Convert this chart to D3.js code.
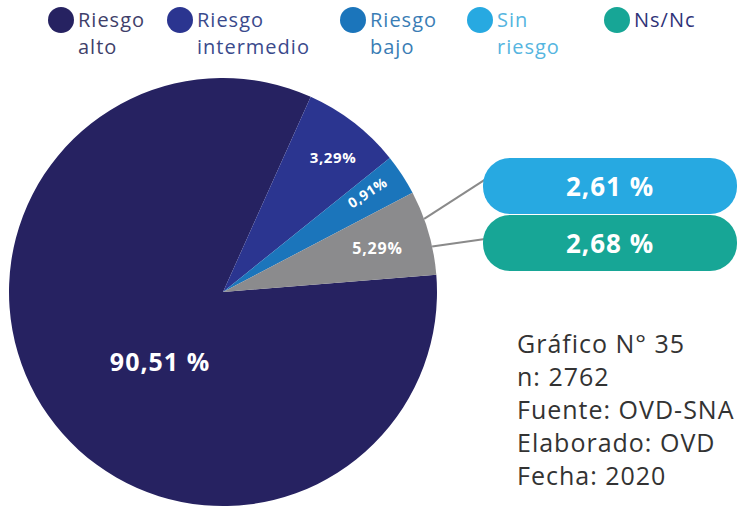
<!DOCTYPE html>
<html>
<head>
<meta charset="utf-8">
<script src="https://cdn.jsdelivr.net/npm/d3@7"></script>
<style>
  body { margin: 0; background: #fff; }
  text { font-family: "Open Sans", Lato, sans-serif; }
</style>
</head>
<body>
<div id="chart"></div>
<script>
// categories and values as printed on the chart
var categories = ["Riesgo alto", "Riesgo intermedio", "Riesgo bajo", "Sin riesgo / Ns/Nc"];
var labels = ["90,51 %", "3,29%", "0,91%", "5,29%"];
var values = [90.51, 3.29, 0.91, 5.29];
// share of the circle each slice takes in the picture (not drawn to scale)
var shares = [83.0, 7.5, 3.1, 6.4];
var sliceColors = ["#262261", "#2b3590", "#1b75bb", "#8b8b8d"];

// legend
var legendNames = [["Riesgo", "alto"], ["Riesgo", "intermedio"], ["Riesgo", "bajo"], ["Sin", "riesgo"], ["Ns/Nc"]];
var legendDots = ["#262261", "#2b3590", "#1b75bb", "#27a9e1", "#17a696"];
var legendText = ["#3f3f6a", "#3a4a8c", "#3a7db5", "#55b5e0", "#2f3378"];

// breakdown of the grey slice
var subLabels = ["2,61 %", "2,68 %"];
var subValues = [2.61, 2.68];
var subColors = ["#27a9e1", "#17a696"];

var notes = ["Gráfico N° 35", "n: 2762", "Fuente: OVD-SNA", "Elaborado: OVD", "Fecha: 2020"];

var svgWidth = 741, svgHeight = 510;
var cx = 223, cy = 292, radius = 214;

var svg = d3.select("#chart").append("svg")
  .attr("width", svgWidth)
  .attr("height", svgHeight);

var deg = Math.PI / 180;
var pie = d3.pie()
  .sort(null)
  .startAngle(85.4 * deg)
  .endAngle(85.4 * deg + 2 * Math.PI);

var slices = pie(shares);
var arc = d3.arc().innerRadius(0).outerRadius(radius);

var pieGroup = svg.append("g")
  .attr("transform", `translate(${cx}, ${cy})`);

pieGroup.selectAll("path")
  .data(slices)
  .enter()
  .append("path")
  .attr("d", arc)
  .attr("fill", (d, i) => sliceColors[i]);

// slice label placement: angle (deg, clockwise from top), radius fraction
var labelPos = [
  { a: 222, r: 0.44, rot: 0, size: 25, ls: 1 },
  { a: 39.4, r: 0.81, rot: 0, size: 15, ls: 0.6 },
  { a: 55.5, r: 0.82, rot: -33, size: 14, ls: 0.6 },
  { a: 74.2, r: 0.75, rot: 0, size: 16, ls: 0.8 }
];

pieGroup.selectAll("text.slice")
  .data(slices)
  .enter()
  .append("text")
  .attr("class", "slice")
  .attr("transform", function(d, i) {
    var a = labelPos[i].a * deg;
    var r = radius * labelPos[i].r;
    var x = Math.sin(a) * r, y = -Math.cos(a) * r;
    return `translate(${x}, ${y}) rotate(${labelPos[i].rot})`;
  })
  .attr("text-anchor", "middle")
  .attr("dy", "0.36em")
  .attr("fill", "#fff")
  .attr("font-weight", "bold")
  .attr("letter-spacing", (d, i) => labelPos[i].ls)
  .attr("font-size", (d, i) => labelPos[i].size + "px")
  .text((d, i) => labels[i]);

// callouts for the grey slice
var grey = slices[3];
var boxX = 483, boxW = 254, boxH = 57, boxTop = 158;
var boxY = d3.scaleBand().domain(subLabels).range([boxTop, boxTop + 2 * boxH]);

subLabels.forEach(function(lab, i) {
  var a = grey.startAngle + (grey.endAngle - grey.startAngle) * (i + 1) / 3;
  var px = cx + Math.sin(a) * radius, py = cy - Math.cos(a) * radius;
  var ty = i === 0 ? boxY(lab) + boxH * 0.38 : boxY(lab) + boxH * 0.42;
  svg.append("line")
    .attr("x1", px).attr("y1", py)
    .attr("x2", boxX + 2).attr("y2", ty)
    .attr("stroke", "#8a8a8a")
    .attr("stroke-width", 2);
});

svg.selectAll("rect.box")
  .data(subLabels)
  .enter()
  .append("rect")
  .attr("class", "box")
  .attr("x", boxX)
  .attr("y", d => boxY(d))
  .attr("width", boxW)
  .attr("height", boxH - 1)
  .attr("rx", 27)
  .attr("fill", (d, i) => subColors[i]);

svg.selectAll("text.box")
  .data(subLabels)
  .enter()
  .append("text")
  .attr("class", "box")
  .attr("x", boxX + boxW / 2)
  .attr("y", d => boxY(d) + boxH / 2)
  .attr("dy", "0.36em")
  .attr("text-anchor", "middle")
  .attr("fill", "#fff")
  .attr("font-weight", "bold")
  .attr("letter-spacing", 1)
  .attr("font-size", "26px")
  .text(d => d);

// legend
var legendX = [61, 180, 353, 480, 617];
var legend = svg.selectAll("g.legend")
  .data(legendNames)
  .enter()
  .append("g")
  .attr("class", "legend")
  .attr("transform", (d, i) => `translate(${legendX[i]}, 20)`);

legend.append("circle")
  .attr("r", 13)
  .attr("fill", (d, i) => legendDots[i]);

legend.each(function(d, i) {
  var t = d3.select(this).append("text")
    .attr("x", 17)
    .attr("y", 7)
    .attr("fill", legendText[i])
    .attr("letter-spacing", 1)
    .attr("font-size", "20px");
  d.forEach(function(line, j) {
    t.append("tspan")
      .attr("x", 17)
      .attr("dy", j === 0 ? 0 : 27)
      .text(line);
  });
});

// notes
svg.selectAll("text.note")
  .data(notes)
  .enter()
  .append("text")
  .attr("class", "note")
  .attr("x", 517)
  .attr("y", (d, i) => 353 + i * 33)
  .attr("fill", "#333")
  .attr("letter-spacing", 1)
  .attr("font-size", "25px")
  .text(d => d);
</script>
</body>
</html>
